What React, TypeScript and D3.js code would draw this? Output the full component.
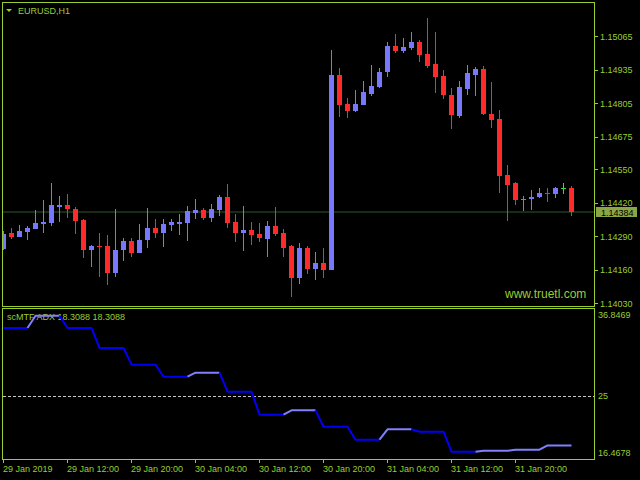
import React from "react";
import * as d3 from "d3";

// ---- Data (EURUSD H1) ----
const opens = [1.14240,1.14302,1.14287,1.14306,1.14318,1.14337,1.14341,1.14403,1.14411,1.14395,
1.14353,1.14236,1.14252,1.14252,1.14147,1.14236,1.14271,1.14225,1.14275,1.14322,
1.14302,1.14333,1.14337,1.14341,1.14380,1.14391,1.14360,1.14391,1.14442,1.14345,
1.14302,1.14314,1.14298,1.14279,1.14329,1.14302,1.14252,1.14128,1.14244,1.14163,
1.14186,1.14159,1.14914,1.14802,1.14775,1.14798,1.14840,1.14868,1.14926,1.15026,
1.15007,1.15019,1.15042,1.14995,1.14957,1.14910,1.14837,1.14755,1.14860,1.14914,
1.14937,1.14763,1.14744,1.14527,1.14496,1.14430,1.14434,1.14442,1.14457,1.14453,
1.14476,1.14476];
const highs = [1.14310,1.14322,1.14333,1.14329,1.14391,1.14430,1.14496,1.14445,1.14453,1.14403,
1.14356,1.14256,1.14302,1.14294,1.14395,1.14283,1.14283,1.14337,1.14399,1.14356,
1.14356,1.14356,1.14376,1.14407,1.14434,1.14399,1.14415,1.14449,1.14492,1.14376,
1.14407,1.14345,1.14341,1.14349,1.14403,1.14318,1.14256,1.14264,1.14252,1.14229,
1.14244,1.15011,1.14941,1.14825,1.14856,1.14891,1.14953,1.14941,1.15042,1.15073,
1.15057,1.15080,1.15050,1.15135,1.15080,1.14933,1.14864,1.14891,1.14953,1.14945,
1.14949,1.14887,1.14778,1.14566,1.14500,1.14445,1.14469,1.14476,1.14476,1.14480,
1.14496,1.14484];
const lows = [1.14236,1.14279,1.14287,1.14275,1.14318,1.14302,1.14329,1.14345,1.14360,1.14298,
1.14205,1.14171,1.14132,1.14101,1.14132,1.14194,1.14209,1.14225,1.14244,1.14283,
1.14248,1.14310,1.14294,1.14271,1.14356,1.14353,1.14345,1.14368,1.14322,1.14267,
1.14233,1.14256,1.14267,1.14209,1.14291,1.14209,1.14054,1.14105,1.14143,1.14120,
1.14128,1.14159,1.14751,1.14748,1.14771,1.14798,1.14833,1.14864,1.14906,1.15000,
1.15000,1.15011,1.14964,1.14941,1.14844,1.14821,1.14705,1.14748,1.14837,1.14833,
1.14759,1.14709,1.14457,1.14349,1.14411,1.14387,1.14391,1.14438,1.14422,1.14438,
1.14453,1.14368];
const closes = [1.14298,1.14287,1.14310,1.14322,1.14341,1.14345,1.14411,1.14411,1.14395,1.14349,
1.14236,1.14252,1.14248,1.14147,1.14236,1.14271,1.14225,1.14275,1.14322,1.14302,
1.14337,1.14345,1.14345,1.14387,1.14391,1.14360,1.14395,1.14442,1.14341,1.14302,
1.14314,1.14294,1.14283,1.14329,1.14298,1.14244,1.14128,1.14244,1.14163,1.14186,
1.14159,1.14914,1.14798,1.14775,1.14802,1.14848,1.14871,1.14926,1.15026,1.15007,
1.15022,1.15042,1.14991,1.14949,1.14906,1.14837,1.14759,1.14868,1.14922,1.14937,
1.14763,1.14740,1.14523,1.14488,1.14430,1.14434,1.14442,1.14457,1.14453,1.14476,
1.14476,1.14384];

// scMTF ADX (H4 values shown on H1 bars)
const adxValues = [
34.21,34.21,34.21,34.21, 35.87,35.87,35.87,35.87, 34.21,34.21,34.21,34.21,
31.50,31.50,31.50,31.50, 29.24,29.24,29.24,29.24, 27.61,27.61,27.61,27.61,
28.15,28.15,28.15,28.15, 25.58,25.58,25.58,25.58, 22.47,22.47,22.47,22.47,
23.06,23.06,23.06,23.06, 20.84,20.84,20.84,20.84, 19.08,19.08,19.08,19.08,
20.49,20.49,20.49,20.49, 20.16,20.16,20.16,20.16, 17.46,17.46,17.46,17.46,
17.59,17.59,17.59,17.59, 17.73,17.73,17.73,17.73, 18.3088,18.3088,18.3088,18.3088];

const priceTicks = [1.15065, 1.14935, 1.14805, 1.14675, 1.14550, 1.14420, 1.14290, 1.14160, 1.14030];
const timeTickBars = [0, 8, 16, 24, 32, 40, 48, 56, 64];
const timeLabels = ["29 Jan 2019", "29 Jan 12:00", "29 Jan 20:00", "30 Jan 04:00", "30 Jan 12:00",
  "30 Jan 20:00", "31 Jan 04:00", "31 Jan 12:00", "31 Jan 20:00"];
const currentPrice = 1.14384;
const adxRange = [16.4678, 36.8469];
const adxLevel = 25;
const symbolTitle = "EURUSD,H1";
const indicatorTitle = "scMTF ADX 18.3088 18.3088";
const watermark = "www.truetl.com";

// ---- Styles ----
const AXIS = "#9ACD32";
const BULL = "#7878FF";
const BEAR = "#FF2A2A";
const DOJI = "#33DD33";
const ADX_DOWN = "#0000F5";
const ADX_UP = "#8080FF";
const FONT = "'Liberation Sans', Arial, sans-serif";

export default function App() {
  const W = 640, H = 480;
  const left = 2.5, right = 594.5, mainTop = 2.5, mainBottom = 306.5;
  const indTop = 308.5, indBottom = 459.5;

  const x = d3.scaleLinear().domain([0, 71]).range([3.5, 571.5]);
  const y = d3.scaleLinear().domain([1.14030, 1.15065]).range([303.3, 36]);
  const ya = d3.scaleLinear().domain(adxRange).range([459, 308.5]);

  const candles = opens.map((o, i) => {
    const c = closes[i];
    const color = c > o ? BULL : c < o ? BEAR : DOJI;
    const cx = x(i);
    const bt = Math.round(y(Math.max(o, c)));
    const bb = Math.round(y(Math.min(o, c)));
    const wt = Math.round(y(highs[i]));
    const wb = Math.round(y(lows[i]));
    return (
      <g key={i} fill={color}>
        <rect x={cx - 0.5} y={wt} width={1} height={Math.max(1, wb - wt)} />
        <rect x={cx - 2.5} y={bt} width={5} height={Math.max(1, bb - bt)} />
      </g>
    );
  });

  // ADX line runs coloured by direction
  const up: boolean[] = [];
  adxValues.forEach((v, i) => {
    if (i === 0) up.push(false);
    else up.push(v > adxValues[i - 1] ? true : v < adxValues[i - 1] ? false : up[i - 1]);
  });
  const runs: { color: string; pts: [number, number][] }[] = [];
  for (let i = 1; i < adxValues.length; i++) {
    const color = up[i] ? ADX_UP : ADX_DOWN;
    const p0: [number, number] = [x(i - 1), ya(adxValues[i - 1])];
    const p1: [number, number] = [x(i), ya(adxValues[i])];
    const last = runs[runs.length - 1];
    if (last && last.color === color) last.pts.push(p1);
    else runs.push({ color, pts: [p0, p1] });
  }
  const line = d3.line<[number, number]>().x(d => d[0]).y(d => d[1]);

  const cpY = Math.round(y(currentPrice)) + 0.5;

  return (
    <svg width={W} height={H} style={{ position: "absolute", left: 0, top: 0, display: "block", background: "#000" }}
      fontFamily={FONT}>
      <rect x={0} y={0} width={W} height={H} fill="#000" />
      <defs>
        <clipPath id="mainClip"><rect x={3} y={3} width={591} height={303} /></clipPath>
        <clipPath id="indClip"><rect x={3} y={309} width={591} height={150} /></clipPath>
      </defs>

      {/* current price line */}
      <line x1={3} x2={594} y1={cpY - 0.5} y2={cpY - 0.5} stroke="#2A5A28" strokeWidth={1} />

      <g clipPath="url(#mainClip)" shapeRendering="crispEdges">{candles}</g>

      {/* title */}
      <path d="M6,9 L12,9 L9,12 Z" fill={AXIS} />
      <text x={18} y={14} fontSize={9} fill={AXIS}>{symbolTitle}</text>

      {/* watermark */}
      <text x={505} y={298} fontSize={12} fill={AXIS}>{watermark}</text>

      {/* main frame */}
      <g stroke={AXIS} strokeWidth={1} fill="none" shapeRendering="crispEdges">
        <rect x={left} y={mainTop} width={right - left} height={mainBottom - mainTop} />
        <rect x={left} y={indTop} width={right - left} height={indBottom - indTop} />
      </g>

      {/* price axis */}
      {priceTicks.map((p, i) => (
        <g key={i}>
          <line x1={595} x2={598} y1={Math.round(y(p)) + 0.5} y2={Math.round(y(p)) + 0.5} stroke={AXIS} />
          <text x={600} y={y(p) + 3.5} fontSize={9} fill={AXIS}>{p.toFixed(5)}</text>
        </g>
      ))}
      <rect x={596} y={207} width={41} height={10} fill="#8BA646" />
      <text x={601} y={215.5} fontSize={9} fill="#000">{currentPrice.toFixed(5)}</text>

      {/* indicator */}
      <text x={7} y={320} fontSize={9} fill={AXIS}>{indicatorTitle}</text>
      <line x1={3} x2={594} y1={Math.round(ya(adxLevel)) + 0.5} y2={Math.round(ya(adxLevel)) + 0.5}
        stroke="#C8C8C8" strokeDasharray="3,2" />
      <g clipPath="url(#indClip)">
        {runs.map((r, i) => (
          <path key={i} d={line(r.pts) || ""} fill="none" stroke={r.color} strokeWidth={2} strokeLinejoin="round" />
        ))}
      </g>
      <text x={598} y={318} fontSize={9} fill={AXIS}>{adxRange[1].toFixed(4)}</text>
      <text x={598} y={ya(adxLevel) + 3.5} fontSize={9} fill={AXIS}>{adxLevel}</text>
      <text x={598} y={456} fontSize={9} fill={AXIS}>{adxRange[0].toFixed(4)}</text>

      {/* time axis */}
      {timeTickBars.map((b, i) => (
        <g key={i}>
          <line x1={x(b)} x2={x(b)} y1={460} y2={463} stroke={AXIS} />
          <text x={x(b) - 0.5} y={472} fontSize={9} fill={AXIS}>{timeLabels[i]}</text>
        </g>
      ))}
    </svg>
  );
}
